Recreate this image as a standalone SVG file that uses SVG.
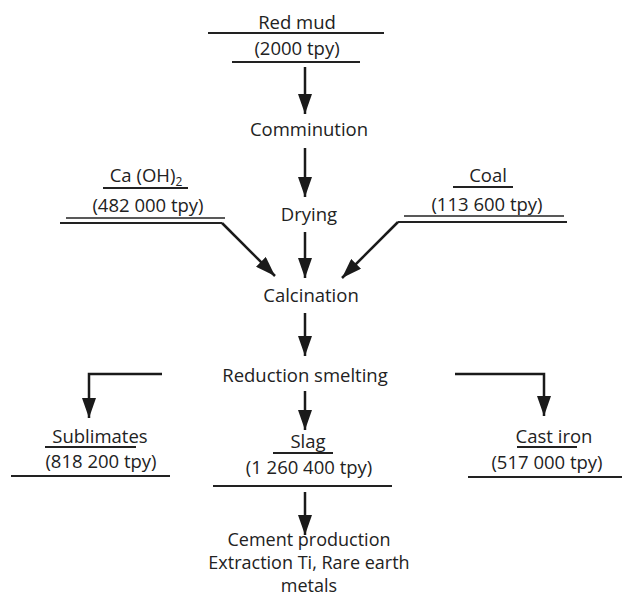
<svg xmlns="http://www.w3.org/2000/svg" width="624" height="597" viewBox="0 0 624 597">
<defs>
<marker id="ah" viewBox="0 0 20 14" refX="20" refY="7" markerWidth="20" markerHeight="14" markerUnits="userSpaceOnUse" orient="auto">
<path d="M0,0 L20,7 L0,14 Z" fill="#1a1a1a"/>
</marker>
</defs>
<style>
text{font-family:"Open Sans","Noto Sans","DejaVu Sans",sans-serif;font-size:18.5px;fill:#222;text-anchor:middle}
.bottom{font-size:18px}
.rule{stroke:#222;stroke-width:2;fill:none}
.thin{stroke:#222;stroke-width:1.5;fill:none}
.arr{stroke:#1a1a1a;stroke-width:2.5;fill:none;marker-end:url(#ah)}
</style>
<rect width="624" height="597" fill="#fff"/>
<g id="connectors">
<line class="arr" x1="305" y1="67" x2="305" y2="114"/>
<line class="arr" x1="305" y1="148" x2="305" y2="197"/>
<line class="arr" x1="305" y1="232" x2="305" y2="278"/>
<line class="arr" x1="305" y1="313" x2="305" y2="356"/>
<line class="arr" x1="305" y1="391" x2="305" y2="430"/>
<line class="arr" x1="305" y1="492" x2="305" y2="535"/>
<polyline class="arr" points="222,223 275,276"/>
<polyline class="arr" points="398,222 342,278"/>
<polyline class="arr" points="162,374 89,374 89,418"/>
<polyline class="arr" points="455,374 544,374 544,416"/>
</g>
<g id="red-mud">
<text x="297" y="29">Red mud</text>
<line class="rule" x1="208" y1="33" x2="384" y2="33"/>
<text x="297" y="55">(2000 tpy)</text>
<line class="rule" x1="232" y1="62" x2="360" y2="62"/>
</g>
<g id="comminution"><text x="309" y="136">Comminution</text></g>
<g id="drying"><text x="309" y="221">Drying</text></g>
<g id="caoh2">
<text x="146" y="182">Ca (OH)<tspan font-size="12" dy="4">2</tspan></text>
<line class="rule" x1="103" y1="188" x2="188" y2="188"/>
<text x="148" y="212">(482 000 tpy)</text>
<line class="thin" x1="66" y1="218" x2="225" y2="218"/>
<line class="rule" x1="60" y1="223" x2="222" y2="223"/>
</g>
<g id="coal">
<text x="488" y="182">Coal</text>
<line class="rule" x1="453" y1="187" x2="513" y2="187"/>
<text x="487" y="211">(113 600 tpy)</text>
<line class="thin" x1="404" y1="216" x2="564" y2="216"/>
<line class="rule" x1="398" y1="222" x2="567" y2="222"/>
</g>
<g id="calcination"><text x="311" y="302">Calcination</text></g>
<g id="reduction-smelting"><text x="305" y="382">Reduction smelting</text></g>
<g id="sublimates">
<text x="100" y="443">Sublimates</text>
<line class="rule" x1="45" y1="447" x2="136" y2="447"/>
<text x="101" y="468">(818 200 tpy)</text>
<line class="rule" x1="11" y1="476" x2="170" y2="476"/>
</g>
<g id="slag">
<text x="308" y="448">Slag</text>
<line class="rule" x1="273" y1="453" x2="333" y2="453"/>
<text x="309" y="474">(1 260 400 tpy)</text>
<line class="rule" x1="213" y1="486" x2="392" y2="486"/>
</g>
<g id="cast-iron">
<text x="554" y="443">Cast iron</text>
<line class="rule" x1="517" y1="447" x2="577" y2="447"/>
<text x="547" y="469">(517 000 tpy)</text>
<line class="rule" x1="468" y1="477" x2="622" y2="477"/>
</g>
<g id="cement">
<text class="bottom" x="309" y="546">Cement production</text>
<text class="bottom" x="309" y="569">Extraction Ti, Rare earth</text>
<text class="bottom" x="309" y="592">metals</text>
</g>
</svg>
